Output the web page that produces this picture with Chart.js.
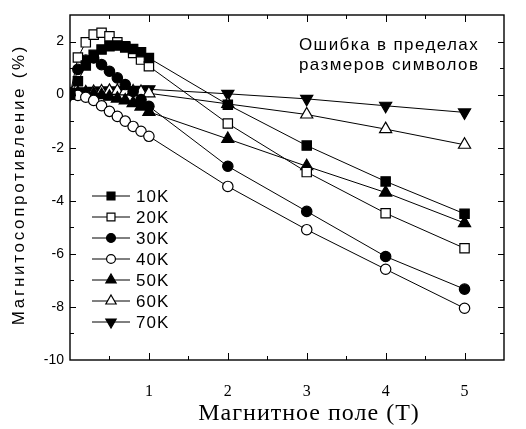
<!DOCTYPE html>
<html>
<head>
<meta charset="utf-8">
<script src="https://cdn.jsdelivr.net/npm/chart.js@4/dist/chart.umd.min.js"></script>
<style>
  html, body { margin: 0; padding: 0; background: #fff; }
  canvas { display: block; }
</style>
</head>
<body>
<canvas id="mr-chart" width="526" height="429"></canvas>
<script>
// Магнитное поле (Т): плотная сетка до 1 Т, дальше шаг 1 Т
const fieldT = [0, 0.1, 0.2, 0.3, 0.4, 0.5, 0.6, 0.7, 0.8, 0.9, 1.0, 2, 3, 4, 5];

// Магнитосопротивление (%) для разных температур
const mr10K = [0, 0.5, 1.1, 1.5, 1.7, 1.82, 1.85, 1.78, 1.72, 1.6, 1.38, -0.38, -1.92, -3.27, -4.49];
const mr20K = [0, 1.4, 1.97, 2.26, 2.33, 2.2, 1.97, 1.82, 1.57, 1.32, 1.07, -1.09, -2.92, -4.47, -5.79];
const mr30K = [0, 0.95, 1.3, 1.38, 1.13, 0.88, 0.63, 0.38, 0.12, -0.19, -0.44, -2.7, -4.4, -6.1, -7.33];
const mr40K = [0, -0.03, -0.1, -0.22, -0.42, -0.63, -0.82, -1.0, -1.2, -1.38, -1.57, -3.46, -5.09, -6.58, -8.05];
const mr50K = [0, 0.05, 0.05, 0.02, -0.02, -0.08, -0.15, -0.22, -0.32, -0.45, -0.65, -1.67, -2.7, -3.69, -4.84];
const mr60K = [0, 0.05, 0.08, 0.1, 0.12, 0.14, 0.14, 0.12, 0.12, 0.1, 0.05, -0.35, -0.75, -1.3, -1.89];
const mr70K = [0, 0.1, 0.12, 0.14, 0.15, 0.15, 0.15, 0.15, 0.16, 0.18, 0.2, 0.03, -0.16, -0.42, -0.67];

const seriesLabels = ['10K', '20K', '30K', '40K', '50K', '60K', '70K'];
const seriesValues = [mr10K, mr20K, mr30K, mr40K, mr50K, mr60K, mr70K];

const xTitle = 'Магнитное поле (T)';
const yTitle = 'Магнитосопротивление (%)';
const noteLines = ['Ошибка в пределах', 'размеров символов'];

// стиль маркеров: [pointStyle, заливка, поворот, радиус]
const markerStyles = [
    ['rect', '#000', 0, 6.6],
    ['rect', '#fff', 0, 6.6],
    ['circle', '#000', 0, 5.2],
    ['circle', '#fff', 0, 5.2],
    ['triangle', '#000', 0, 7],
    ['triangle', '#fff', 0, 7],
    ['triangle', '#000', 180, 7],
];

const toPoints = (values) => values.map((v, i) => ({ x: fieldT[i], y: v }));

const datasets = seriesValues.map((values, i) => {
    const [style, fill, rotation, radius] = markerStyles[i];
    return {
        label: seriesLabels[i],
        data: toPoints(values),
        borderColor: '#000',
        borderWidth: 1,
        pointStyle: style,
        pointRotation: rotation,
        pointRadius: radius,
        pointHoverRadius: radius,
        pointBackgroundColor: fill,
        pointBorderColor: '#000',
        pointBorderWidth: 1.2,
        tension: 0,
    };
});

// рамка с внутренними засечками на всех четырёх сторонах
const framePlugin = {
    id: 'frame',
    afterDatasetsDraw(chart) {
        const { ctx, chartArea: a, scales: { x, y } } = chart;
        ctx.save();
        ctx.strokeStyle = '#000';
        ctx.lineWidth = 1.4;
        ctx.strokeRect(a.left, a.top, a.right - a.left, a.bottom - a.top);
        ctx.lineWidth = 1;
        ctx.beginPath();
        x.ticks.forEach((t) => {
            if (t.value <= x.min || t.value >= x.max) return;
            const px = Math.round(x.getPixelForValue(t.value)) + 0.5;
            const len = Number.isInteger(t.value) ? 7 : 4;
            ctx.moveTo(px, a.bottom); ctx.lineTo(px, a.bottom - len);
            ctx.moveTo(px, a.top); ctx.lineTo(px, a.top + len);
        });
        y.ticks.forEach((t) => {
            if (t.value <= y.min || t.value >= y.max) return;
            const py = Math.round(y.getPixelForValue(t.value)) + 0.5;
            const len = t.value % 2 === 0 ? 6 : 4;
            ctx.moveTo(a.left, py); ctx.lineTo(a.left + len, py);
            ctx.moveTo(a.right, py); ctx.lineTo(a.right - len, py);
        });
        ctx.stroke();
        ctx.restore();
    },
    afterDraw(chart) {
        const { ctx, chartArea: a } = chart;
        ctx.save();
        ctx.fillStyle = '#000';
        ctx.textBaseline = 'middle';

        // подпись оси X
        ctx.font = '24px "Liberation Serif"';
        ctx.letterSpacing = '1px';
        ctx.textAlign = 'center';
        ctx.fillText(xTitle, (a.left + a.right) / 2 + 22, 414);

        // подпись оси Y (повёрнута)
        ctx.save();
        ctx.translate(19, (a.top + a.bottom) / 2 - 3);
        ctx.rotate(-Math.PI / 2);
        ctx.font = '17px "Liberation Sans"';
        ctx.letterSpacing = '2.7px';
        ctx.fillText(yTitle, 0, 0);
        ctx.restore();

        // заметка в правом верхнем углу
        ctx.font = '17px "Liberation Sans"';
        ctx.letterSpacing = '1.4px';
        ctx.textAlign = 'left';
        noteLines.forEach((line, i) => ctx.fillText(line, 299, 45 + i * 20));

        // легенда: линия + маркер + подпись
        chart.data.datasets.forEach((ds, i) => {
            const cy = 196 + i * 21;
            ctx.strokeStyle = '#000';
            ctx.lineWidth = 1;
            ctx.beginPath();
            ctx.moveTo(92, cy); ctx.lineTo(130, cy);
            ctx.stroke();
            ctx.fillStyle = ds.pointBackgroundColor;
            ctx.lineWidth = ds.pointBorderWidth;
            Chart.helpers.drawPoint(ctx, {
                pointStyle: ds.pointStyle,
                rotation: ds.pointRotation,
                radius: ds.pointRadius * 0.85,
                borderWidth: ds.pointBorderWidth,
            }, 111, cy);
            ctx.fillStyle = '#000';
            ctx.font = '17px "Liberation Sans"';
            ctx.letterSpacing = '1px';
            ctx.fillText(ds.label, 136, cy + 1);
        });
        ctx.restore();
    },
};

const chart = new Chart(document.getElementById('mr-chart'), {
    type: 'line',
    data: { datasets },
    options: {
        responsive: false,
        animation: false,
        devicePixelRatio: 1,
        layout: { padding: { left: 0, right: 1, top: 15, bottom: 0 } },
        plugins: {
            legend: { display: false },
            tooltip: { enabled: false },
        },
        scales: {
            x: {
                type: 'linear',
                min: 0,
                max: 5.5,
                afterFit: (s) => { s.height = 69; },
                grid: { display: false, drawTicks: false },
                border: { display: false },
                ticks: {
                    stepSize: 0.5,
                    autoSkip: false,
                    maxRotation: 0,
                    padding: 22,
                    color: '#000',
                    font: { family: 'Liberation Serif', size: 16 },
                    callback: (v) => (Number.isInteger(v) && v > 0 ? v : ''),
                },
            },
            y: {
                min: -10,
                max: 3,
                afterFit: (s) => { s.width = 70; },
                grid: { display: false, drawTicks: false },
                border: { display: false },
                ticks: {
                    stepSize: 1,
                    autoSkip: false,
                    padding: 6,
                    color: '#000',
                    font: { family: 'Liberation Sans', size: 14 },
                    callback: (v) => (v % 2 === 0 ? v : ''),
                },
            },
        },
    },
    plugins: [framePlugin],
});
</script>
</body>
</html>
